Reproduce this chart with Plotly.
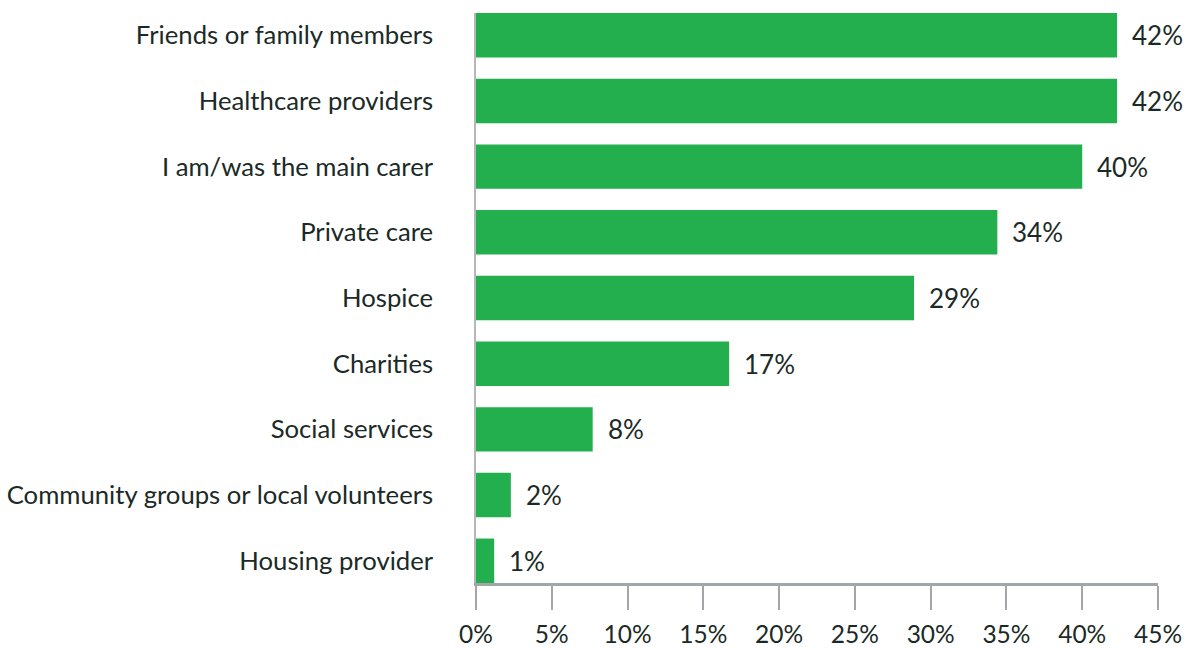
import plotly.graph_objects as go

# Sources of support, share of respondents (%)
categories = [
    "Friends or family members",
    "Healthcare providers",
    "I am/was the main carer",
    "Private care",
    "Hospice",
    "Charities",
    "Social services",
    "Community groups or local volunteers",
    "Housing provider",
]
values = [42.3, 42.3, 40.0, 34.4, 28.9, 16.7, 7.7, 2.3, 1.2]
x_ticks = [0, 5, 10, 15, 20, 25, 30, 35, 40, 45]
x_tick_labels = [f"{t}%" for t in x_ticks]

BAR_GREEN = "#23AF4D"
TEXT = "#1B2A26"
AXIS_GREY = "#A3A6A9"
FONT = "Lato, 'Open Sans', sans-serif"
FONT_SIZE = 25.7
BAR_WIDTH = 0.677

fig = go.Figure(
    go.Bar(
        x=values,
        y=categories,
        orientation="h",
        width=BAR_WIDTH,
        marker=dict(color=BAR_GREEN, line=dict(width=0)),
        hoverinfo="skip",
    )
)

# Value labels just to the right of each bar
for cat, v in zip(categories, values):
    fig.add_annotation(
        x=v, y=cat, text=f"{v:.0f}%", showarrow=False,
        xanchor="left", yanchor="middle", xshift=13,
        font=dict(family=FONT, size=26, color=TEXT),
    )

n = len(categories)
fig.update_layout(
    width=1188, height=648,
    margin=dict(l=476, r=30, t=13, b=65, autoexpand=False),
    plot_bgcolor="white", paper_bgcolor="white",
    showlegend=False,
    font=dict(family=FONT, size=FONT_SIZE, color=TEXT),
    xaxis=dict(
        range=[0, 45], tickvals=x_ticks, ticktext=x_tick_labels,
        showgrid=False, zeroline=False, automargin=False,
        showline=True, linecolor=AXIS_GREY, linewidth=2.5,
        ticks="outside", ticklen=24, tickwidth=1.5, tickcolor=AXIS_GREY,
        tickfont=dict(family=FONT, size=24.5, color=TEXT),
        ticklabelstandoff=4,
    ),
    yaxis=dict(
        type="category", categoryorder="array", categoryarray=categories,
        range=[n - 1 + BAR_WIDTH / 2, -BAR_WIDTH / 2],
        showgrid=False, zeroline=False, automargin=False,
        showline=True, linecolor="#B5B7B9", linewidth=1.5,
        ticks="", ticklabelstandoff=36,
        tickfont=dict(family=FONT, size=FONT_SIZE, color=TEXT),
    ),
)

fig.write_html("out.html")
